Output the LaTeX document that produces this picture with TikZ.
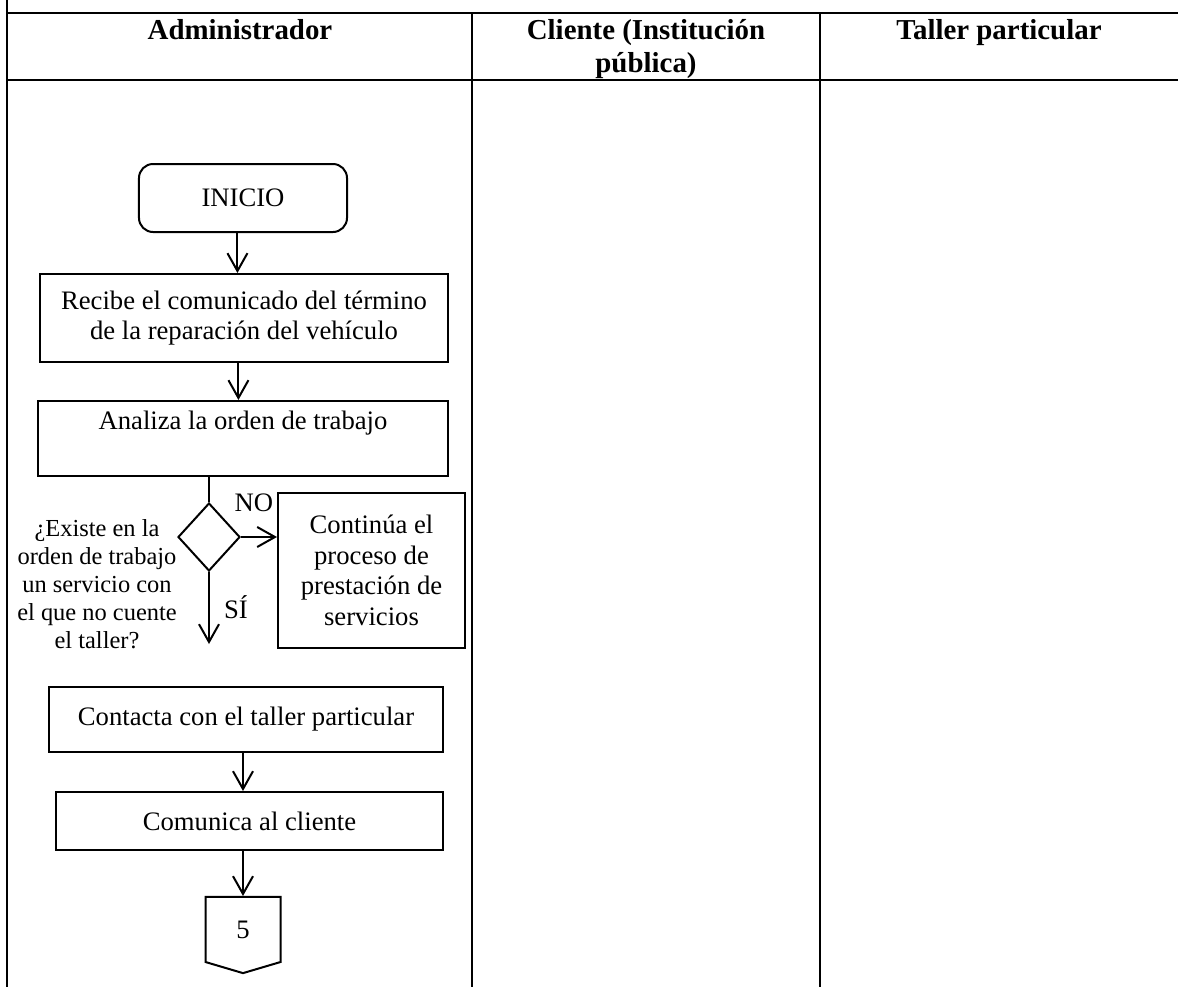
\documentclass[tikz,border=0pt]{standalone}
\usepackage{fontspec}
\setmainfont{Liberation Serif}
\usetikzlibrary{shapes.geometric,shapes.symbols,arrows.meta}

\begin{document}
\begin{tikzpicture}[x=0.45pt,y=-0.45pt,line width=0.9pt,
  >={Straight Barb[length=8pt,width=9pt]},
  titulo/.style={anchor=north,inner sep=0pt,align=center,
    font=\bfseries\fontsize{13}{15}\selectfont},
  caja/.style={draw,rectangle,inner sep=2pt,align=center,
    font=\fontsize{12}{13.8}\selectfont},
  pregunta/.style={align=center,inner sep=0pt,font=\fontsize{11}{12.65}\selectfont}]
\useasboundingbox (0,0) rectangle (1178,987);
% tabla de responsables
\draw (7,0) -- (7,987);
\draw (7,13) -- (1178,13);
\draw (7,80) -- (1178,80);
\draw (472,13) -- (472,987);
\draw (820,13) -- (820,987);
\node[titulo] (admin) at (240,18) {Administrador};
\node[titulo] (cliente) at (646,18) {Cliente (Institución\\pública)};
\node[titulo] (taller) at (999,18) {Taller particular};
% flujo del administrador
\node[caja,rounded corners=6.3pt,minimum width=93.6pt,minimum height=30.6pt] (inicio) at (243,198) {INICIO};
\node[caja,minimum width=183.6pt,minimum height=39.6pt] (recibe) at (244,318)
  {Recibe el comunicado del término\\de la reparación del vehículo};
\node[caja,anchor=north,inner ysep=3.5pt,text height=9.1pt,text depth=17.65pt,
  minimum width=184.5pt] (analiza) at (243,400) {Analiza la orden de trabajo};
\node[draw,diamond,inner sep=0pt,minimum width=27.9pt,minimum height=30.6pt] (dec) at (209,537) {};
\node[pregunta] (preg) at (97,584)
  {¿Existe en la\\orden de trabajo\\un servicio con\\el que no cuente\\el taller?};
\node[caja,minimum width=84.15pt,minimum height=69.75pt] (continua) at (371.5,570.5)
  {Continúa el\\proceso de\\prestación de\\servicios};
\node[font=\fontsize{12}{13.8}\selectfont,inner sep=0pt] (no) at (254,503) {NO};
\node[font=\fontsize{12}{13.8}\selectfont,inner sep=0pt] (si) at (236,607) {SÍ};
\coordinate (finsi) at (209,644);
\node[caja,minimum width=177.3pt,minimum height=29.25pt] (contacta) at (246,719.5)
  {Contacta con el taller particular};
\node[caja,minimum width=174.15pt,minimum height=26.1pt] (comunica) at (249.5,821) {Comunica al cliente};
\node[caja,signal,signal to=south,signal pointer angle=147,inner sep=0pt,
  minimum width=33.75pt,minimum height=30.15pt] (conector) at (243,929.5) {5};
% conectores
\draw[->] ([xshift=-2.5pt]inicio.south) -- ([xshift=-2.5pt]inicio.south |- recibe.north);
\draw[->] ([xshift=-2.5pt]recibe.south) -- ([xshift=-2.5pt]recibe.south |- analiza.north);
\draw (dec.north |- analiza.south) -- (dec.north);
\draw[->] (dec.east) -- (dec.east -| continua.west);
\draw[->] (dec.south) -- (finsi);
\draw[->] (contacta.south -| conector.north) -- (comunica.north -| conector.north);
\draw[->] (comunica.south -| conector.north) -- (conector.north);
\end{tikzpicture}
\end{document}
